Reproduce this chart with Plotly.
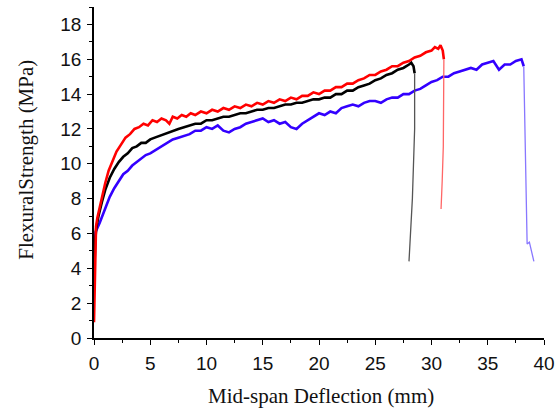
import plotly.graph_objects as go

# ---- data ----
red_x = [0.00, 0.02, 0.05, 0.08, 0.12, 0.18, 0.3, 0.5, 0.7, 1.0, 1.3, 1.6, 2.0, 2.4, 2.8, 3.2, 3.6, 4.0, 4.4, 4.8,
         5.2, 5.6, 6.0, 6.4, 6.7, 7.0, 7.4, 7.8, 8.2, 8.6, 9.0, 9.5, 10.0, 10.5, 11.0, 11.5, 12.0, 12.5, 13.0, 13.5,
         14.0, 14.5, 15.0, 15.5, 16.0, 16.5, 17.0, 17.5, 18.0, 18.5, 19.0, 19.5, 20.0, 20.5, 21.0, 21.5, 22.0, 22.5,
         23.0, 23.5, 24.0, 24.5, 25.0, 25.5, 26.0, 26.5, 27.0, 27.5, 28.0, 28.5, 29.0, 29.5, 30.0, 30.3, 30.6, 30.8,
         31.0, 31.1]
red_y = [0.9, 1.8, 3.5, 4.8, 5.8, 6.4, 6.9, 7.5, 8.1, 8.9, 9.6, 10.1, 10.7, 11.1, 11.5, 11.7, 12.0, 12.1, 12.3, 12.2,
         12.5, 12.4, 12.6, 12.5, 12.3, 12.7, 12.6, 12.8, 12.7, 12.9, 12.8, 13.0, 12.9, 13.1, 13.0, 13.2, 13.1, 13.3, 13.2, 13.4,
         13.3, 13.5, 13.4, 13.6, 13.5, 13.7, 13.6, 13.8, 13.7, 13.9, 13.9, 14.1, 14.0, 14.2, 14.2, 14.4, 14.4, 14.6,
         14.6, 14.8, 14.9, 15.1, 15.1, 15.3, 15.4, 15.6, 15.6, 15.8, 15.9, 16.1, 16.2, 16.4, 16.5, 16.7, 16.6, 16.8,
         16.5, 16.0]
red_drop_x = [31.1, 31.1, 31.05, 30.95, 30.85]
red_drop_y = [16.0, 14.0, 11.0, 9.0, 7.4]

black_x = [0.00, 0.05, 0.1, 0.2, 0.4, 0.7, 1.0, 1.4, 1.8, 2.2, 2.6, 3.0, 3.4, 3.8, 4.2, 4.6, 5.0, 5.4, 5.8, 6.2,
           6.6, 7.0, 7.5, 8.0, 8.5, 9.0, 9.5, 10.0, 10.5, 11.0, 11.5, 12.0, 12.5, 13.0, 13.5, 14.0, 14.5, 15.0, 15.5,
           16.0, 16.5, 17.0, 17.5, 18.0, 18.5, 19.0, 19.5, 20.0, 20.5, 21.0, 21.5, 22.0, 22.5, 23.0, 23.5, 24.0, 24.5,
           25.0, 25.5, 26.0, 26.5, 27.0, 27.5, 28.0, 28.2, 28.4, 28.5]
black_y = [3.0, 4.5, 5.5, 6.3, 7.0, 7.8, 8.5, 9.2, 9.7, 10.1, 10.4, 10.6, 10.9, 11.0, 11.2, 11.2, 11.4, 11.5, 11.6, 11.7,
           11.8, 11.9, 12.0, 12.1, 12.2, 12.3, 12.3, 12.5, 12.5, 12.6, 12.7, 12.7, 12.8, 12.9, 12.9, 13.0, 13.1, 13.1, 13.2,
           13.2, 13.3, 13.4, 13.4, 13.5, 13.5, 13.6, 13.7, 13.7, 13.8, 13.8, 14.0, 14.0, 14.2, 14.2, 14.4, 14.5, 14.6,
           14.8, 14.9, 15.1, 15.2, 15.4, 15.5, 15.7, 15.8, 15.6, 15.2]
black_drop_x = [28.5, 28.5, 28.3, 28.1, 28.0]
black_drop_y = [15.2, 12.0, 8.0, 5.5, 4.4]

blue_x = [0.00, 0.03, 0.08, 0.15, 0.3, 0.5, 0.8, 1.1, 1.4, 1.8, 2.2, 2.6, 3.0, 3.4, 3.8, 4.2, 4.6, 5.0, 5.5, 6.0,
          6.5, 7.0, 7.5, 8.0, 8.5, 9.0, 9.5, 10.0, 10.5, 11.0, 11.5, 12.0, 12.5, 13.0, 13.5, 14.0, 14.5, 15.0, 15.5,
          16.0, 16.5, 17.0, 17.5, 18.0, 18.5, 19.0, 19.5, 20.0, 20.5, 21.0, 21.5, 22.0, 22.5, 23.0, 23.5, 24.0, 24.5,
          25.0, 25.5, 26.0, 26.5, 27.0, 27.5, 28.0, 28.5, 29.0, 29.5, 30.0, 30.5, 31.0, 31.5, 32.0, 32.5, 33.0, 33.5,
          34.0, 34.5, 35.0, 35.5, 36.0, 36.5, 37.0, 37.5, 38.0, 38.2]
blue_y = [2.8, 4.5, 5.6, 6.1, 6.3, 6.6, 7.1, 7.6, 8.1, 8.6, 9.0, 9.4, 9.6, 9.9, 10.1, 10.3, 10.5, 10.6, 10.8, 11.0,
          11.2, 11.4, 11.5, 11.6, 11.7, 11.9, 11.9, 12.1, 12.0, 12.2, 11.9, 11.8, 12.0, 12.1, 12.3, 12.4, 12.5, 12.6, 12.4,
          12.5, 12.3, 12.4, 12.1, 12.0, 12.3, 12.5, 12.7, 12.9, 12.8, 13.0, 12.9, 13.2, 13.3, 13.4, 13.3, 13.5, 13.6,
          13.6, 13.5, 13.7, 13.8, 13.8, 14.0, 14.0, 14.2, 14.3, 14.5, 14.7, 14.8, 15.0, 15.0, 15.2, 15.3, 15.4, 15.5,
          15.4, 15.7, 15.8, 15.9, 15.4, 15.7, 15.7, 15.9, 16.0, 15.6]
blue_drop_x = [38.2, 38.3, 38.4, 38.5, 38.7, 38.9, 39.1]
blue_drop_y = [15.6, 12.0, 8.0, 5.4, 5.5, 5.0, 4.4]

x_ticks = [0, 5, 10, 15, 20, 25, 30, 35, 40]
y_ticks = [0, 2, 4, 6, 8, 10, 12, 14, 16, 18]
x_title = "Mid-span Deflection (mm)"
y_title = "FlexuralStrength (MPa)"

RED = "#ff0000"
BLACK = "#000000"
BLUE = "#3300ff"

fig = go.Figure()
for xs, ys, c, w in [
    (blue_x, blue_y, BLUE, 2.6), (blue_drop_x, blue_drop_y, "#8877ff", 1.3),
    (black_x, black_y, BLACK, 2.6), (black_drop_x, black_drop_y, "#555555", 1.3),
    (red_x, red_y, RED, 2.6), (red_drop_x, red_drop_y, "#ff6666", 1.3),
]:
    fig.add_trace(go.Scatter(x=xs, y=ys, mode="lines", line=dict(color=c, width=w),
                             showlegend=False, hoverinfo="skip"))

axis_common = dict(
    showgrid=False, zeroline=False, showline=True, linecolor="#000000", linewidth=1.5,
    ticks="outside", ticklen=5, tickwidth=1.3, tickcolor="#000000",
    tickfont=dict(family="Liberation Sans, Arial, sans-serif", size=19, color="#111111"),
    mirror=False, automargin=False,
)

L, R, T, B = 94, 13, 7, 73.5
W, H = 557, 412
pw, ph = W - L - R, H - T - B

fig.update_layout(
    width=W, height=H,
    margin=dict(l=L, r=R, t=T, b=B),
    paper_bgcolor="white", plot_bgcolor="white",
    xaxis=dict(
        range=[0, 40], tickvals=x_ticks, ticklabelstandoff=2,
        minor=dict(ticks="outside", ticklen=3, tickwidth=1.2, tickcolor="#000000", dtick=2.5, tick0=0),
        **axis_common,
    ),
    yaxis=dict(
        range=[0, 19], tickvals=y_ticks, ticklabelstandoff=2,
        minor=dict(ticks="outside", ticklen=3, tickwidth=1.2, tickcolor="#000000", dtick=1, tick0=0),
        **axis_common,
    ),
    annotations=[
        dict(text=x_title, xref="paper", yref="paper", x=(321 - L) / pw, y=(H - B - 397) / ph,
             xanchor="center", yanchor="middle", showarrow=False,
             font=dict(family="Liberation Serif, Times New Roman, serif", size=21, color="#111111")),
        dict(text=y_title, xref="paper", yref="paper", x=(26 - L) / pw, y=(H - B - 160) / ph,
             xanchor="center", yanchor="middle", showarrow=False, textangle=-90,
             font=dict(family="Liberation Serif, Times New Roman, serif", size=21, color="#111111")),
    ],
)

fig.write_html("out.html", config={"displayModeBar": False},
               post_script="document.body.style.margin='0px';document.body.style.overflow='hidden';")
